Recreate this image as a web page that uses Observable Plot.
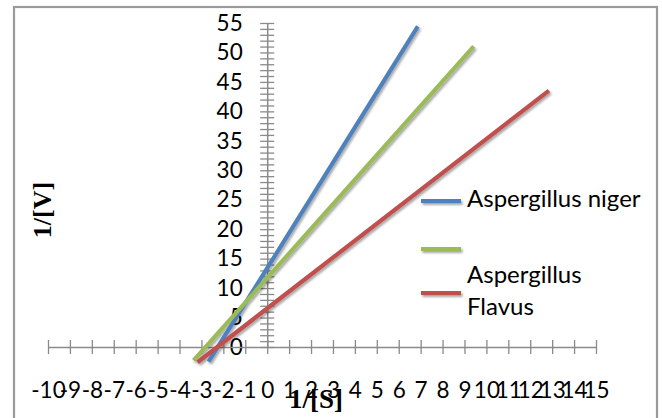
<!DOCTYPE html>
<html>
<head>
<meta charset="utf-8">
<script src="https://cdn.jsdelivr.net/npm/d3@7"></script>
<script src="https://cdn.jsdelivr.net/npm/@observablehq/plot@0.6"></script>
<style>
  html, body { margin: 0; padding: 0; background: #fff; }
  #chart { position: relative; width: 662px; height: 418px; }
</style>
</head>
<body>
<div id="chart"></div>
<script>
// ---- data ----
const seriesNames = ["Aspergillus niger", "", "Aspergillus Flavus"];
const seriesColors = ["#4F81BD", "#9BBB59", "#C0504D"];
const nigerX = [-2.7, 0, 6.85];
const nigerY = [-2.4, 13.6, 54.5];
const greenX = [-3.38, 0, 9.4];
const greenY = [-2.2, 11.9, 51.1];
const flavusX = [-3.2, 0, 12.83];
const flavusY = [-2.5, 6.7, 43.6];
const xTicks = d3.range(-10, 16, 1);
const yMinorTicks = d3.range(0, 56, 1);
const yLabels = d3.range(0, 56, 5);
const xTitle = "1/[S]";
const yTitle = "1/[V]";

const rows = [];
[[nigerX, nigerY], [greenX, greenY], [flavusX, flavusY]].forEach(([xs, ys], i) => {
  xs.forEach((x, j) => rows.push({series: i, x, y: ys[j]}));
});

const W = 662, H = 418;
const mL = 48, mR = 66, mT = 23, mB = 71;
const pxX = (W - mL - mR) / 25;   // px per x unit
const pxY = (H - mT - mB) / 55;   // px per y unit
const tickHalfX = 7 / pxX;        // half tick length in x units
const tickHalfY = 7 / pxY;        // half tick length in y units
const axisGray = "#8a8a8a";
const font = "Lato, 'Noto Sans', sans-serif";

const plot = Plot.plot({
  width: W, height: H,
  marginLeft: mL, marginRight: mR, marginTop: mT, marginBottom: mB,
  x: {domain: [-10, 15], axis: null},
  y: {domain: [0, 55], axis: null},
  style: {fontFamily: font, background: "transparent", overflow: "visible"},
  marks: [
    // y axis
    Plot.ruleX([0], {y1: 0, y2: 55, stroke: axisGray, strokeWidth: 1.5}),
    Plot.ruleY(yMinorTicks, {y: d => d, x1: -tickHalfX, x2: tickHalfX, stroke: axisGray, strokeWidth: 1.3}),
    Plot.text(yLabels, {x: 0, y: d => d, text: d => String(d), dx: -25, textAnchor: "end", fontSize: 22.5, fill: "#000"}),
    // x axis
    Plot.ruleY([0], {x1: -10, x2: 15, stroke: axisGray, strokeWidth: 1.5}),
    Plot.ruleX(xTicks, {x: d => d, y1: -tickHalfY, y2: tickHalfY, stroke: axisGray, strokeWidth: 1.3}),
    Plot.text(xTicks, {x: d => d, y: 0, text: d => String(d), dy: 43, fontSize: 22.5, fill: "#000"}),
    // series
    Plot.line(rows, {x: "x", y: "y", z: "series", stroke: d => seriesColors[d.series], strokeWidth: 4.2, strokeLinecap: "butt", className: "series-line"}),
  ]
});
plot.setAttribute("width", W);
plot.setAttribute("height", H);
plot.style.position = "absolute";
plot.style.left = "0px";
plot.style.top = "0px";
document.getElementById("chart").appendChild(plot);

const svg = d3.select(plot);
// drop shadow filter (user-space region so horizontal lines keep their area)
const defs = svg.insert("defs", ":first-child");
const f = defs.append("filter").attr("id", "shadow").attr("filterUnits", "userSpaceOnUse")
  .attr("x", 0).attr("y", 0).attr("width", W).attr("height", H);
f.append("feDropShadow").attr("dx", 1.5).attr("dy", 2).attr("stdDeviation", 1.2).attr("flood-color", "#000").attr("flood-opacity", 0.35);

svg.selectAll(".series-line").attr("filter", "url(#shadow)");

// outer chart frame
svg.insert("rect", "defs + *")
  .attr("x", 14).attr("y", 7).attr("width", 643).attr("height", 430)
  .attr("fill", "none").attr("stroke", "#9a9a9a").attr("stroke-width", 2.2);

// axis titles
svg.append("text").text(xTitle)
  .attr("x", 316).attr("y", 402).attr("text-anchor", "middle").attr("dominant-baseline", "middle")
  .attr("font-family", "'Liberation Serif', serif").attr("font-weight", "bold").attr("font-size", 27);
svg.append("text").text(yTitle)
  .attr("transform", "translate(45,210) rotate(-90)").attr("text-anchor", "middle").attr("dominant-baseline", "middle")
  .attr("font-family", "'Liberation Serif', serif").attr("font-weight", "bold").attr("font-size", 26);

// legend
const legendRows = [
  {y: 201, lines: [seriesNames[0]], textY: [201]},
  {y: 249, lines: [seriesNames[1]], textY: [249]},
  {y: 293, lines: seriesNames[2].split(" "), textY: [277, 309]},
];
const lg = svg.append("g").attr("font-family", font).attr("font-size", 24).attr("text-anchor", "start");
legendRows.forEach((r, i) => {
  lg.append("line").attr("x1", 421).attr("x2", 461).attr("y1", r.y).attr("y2", r.y)
    .attr("stroke", seriesColors[i]).attr("stroke-width", 4.2).attr("filter", "url(#shadow)");
  r.lines.forEach((t, k) => {
    if (!t) return;
    lg.append("text").text(t).attr("x", 467).attr("y", r.textY[k])
      .attr("text-anchor", "start").attr("dominant-baseline", "middle").attr("fill", "#000");
  });
});
</script>
</body>
</html>
